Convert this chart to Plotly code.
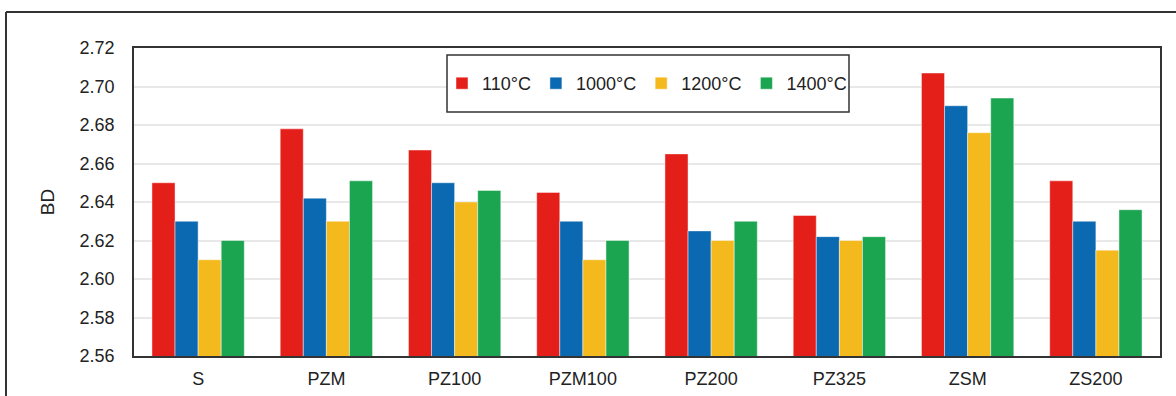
import plotly.graph_objects as go

categories = ["S", "PZM", "PZ100", "PZM100", "PZ200", "PZ325", "ZSM", "ZS200"]
series_names = ["110°C", "1000°C", "1200°C", "1400°C"]
bd_110 = [2.650, 2.678, 2.667, 2.645, 2.665, 2.633, 2.707, 2.651]
bd_1000 = [2.630, 2.642, 2.650, 2.630, 2.625, 2.622, 2.690, 2.630]
bd_1200 = [2.610, 2.630, 2.640, 2.610, 2.620, 2.620, 2.676, 2.615]
bd_1400 = [2.620, 2.651, 2.646, 2.620, 2.630, 2.622, 2.694, 2.636]
y_ticks = [2.56, 2.58, 2.60, 2.62, 2.64, 2.66, 2.68, 2.70, 2.72]

colors = ["#e41f1a", "#0b69b2", "#f4b91c", "#1ca551"]
series_values = [bd_110, bd_1000, bd_1200, bd_1400]

W, H = 1176, 396
L, R, T, B = 134, 16, 48, 40
pw, ph = W - L - R, H - T - B

def px(x):
    return (x - L) / pw

def py(y):
    return (H - B - y) / ph

font = "Liberation Sans, Arial, sans-serif"

fig = go.Figure()
for name, vals, c in zip(series_names, series_values, colors):
    fig.add_trace(go.Bar(
        x=categories, y=vals, name=name,
        marker=dict(color=c, line=dict(color="rgba(255,255,255,0.45)", width=1)),
    ))

fig.update_layout(
    width=W, height=H,
    margin=dict(l=L, r=R, t=T, b=B, autoexpand=False),
    paper_bgcolor="white", plot_bgcolor="white",
    barmode="group", bargap=0.28, bargroupgap=0,
    font=dict(family=font, size=18, color="#222"),
    showlegend=True,
    legend=dict(
        orientation="h", x=0.5, xanchor="center",
        y=py(83.5), yanchor="middle",
        bgcolor="rgba(0,0,0,0)", borderwidth=0,
        font=dict(family=font, size=18, color="#222"),
        itemclick=False,
    ),
    xaxis=dict(
        showline=True, linecolor="#333", linewidth=1.5, mirror=True,
        ticks="", tickfont=dict(size=18), showgrid=False,
        ticklabelstandoff=6, automargin=False,
    ),
    yaxis=dict(
        range=[2.56, 2.72], tickvals=y_ticks,
        ticktext=[f"{v:.2f}" for v in y_ticks],
        tickfont=dict(size=18),
        showline=True, linecolor="#333", linewidth=1.5, mirror=True,
        gridcolor="#e8e8e8", gridwidth=1.5, ticks="",
        ticklabelstandoff=14, zeroline=False, automargin=False,
        title=dict(text="BD", standoff=20, font=dict(size=19)),
    ),
    shapes=[
        dict(type="rect", xref="paper", yref="paper",
             x0=px(447), x1=px(849), y0=py(112), y1=py(55),
             line=dict(color="#333", width=1.5), fillcolor="white", layer="above"),
        dict(type="line", xref="paper", yref="paper",
             x0=px(6), x1=px(6), y0=py(12), y1=py(400),
             line=dict(color="#333", width=2)),
        dict(type="line", xref="paper", yref="paper",
             x0=px(6), x1=px(1180), y0=py(12), y1=py(12),
             line=dict(color="#333", width=2)),
    ],
)

fig.write_html(
    "out.html",
    config={"displayModeBar": False},
    post_script="document.body.style.margin='0';document.body.style.overflow='hidden';",
)
